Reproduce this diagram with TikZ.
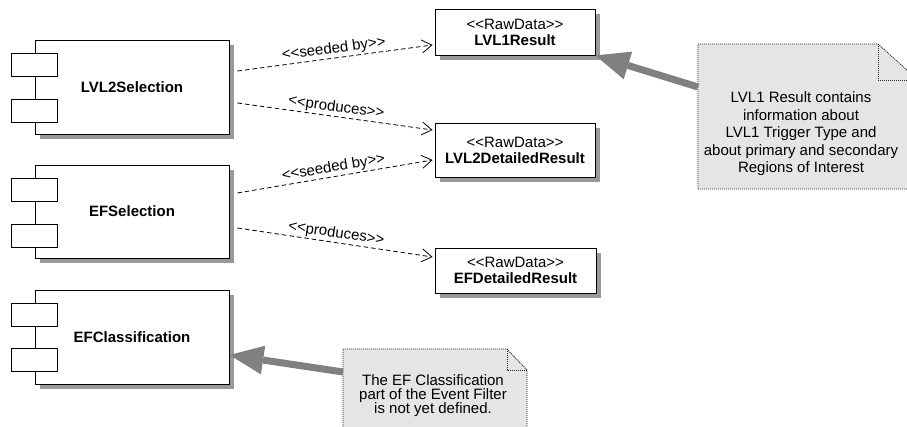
\documentclass[tikz,border=0pt]{standalone}
\usepackage{fontspec}
\setmainfont{Liberation Sans}
\usetikzlibrary{arrows.meta,shadows}

% guillemets written as two separate < and > signs
\newcommand{\stereo}[1]{<\kern0pt<#1>\kern0pt>}

\tikzset{
  boxshadow/.style={drop shadow={shadow xshift=5pt, shadow yshift=-5pt, fill=black!40, opacity=1}},
  compbox/.style={draw, line width=0.9pt, fill=white, boxshadow,
    minimum width=194pt, minimum height=94pt, font=\fontsize{15}{17.5}\selectfont\bfseries},
  portbox/.style={draw, line width=0.9pt, fill=white},
  databox/.style={draw, line width=0.9pt, fill=white, boxshadow, align=center,
    minimum width=160pt, minimum height=46pt, font=\fontsize{15}{16}\selectfont},
  dep/.style={line width=0.8pt, dash pattern=on 4.5pt off 3pt,
    -{Straight Barb[length=10pt,width=13pt]}},
  stereolabel/.style={sloped, above, inner sep=1.5pt},
  notebg/.style={fill=black!10, draw=black!85, dash pattern=on 1pt off 1pt, line width=0.9pt},
  notearrow/.style={draw=black!50, line width=7pt,
    -{Triangle[length=34pt,width=29pt,line width=0pt]}}
}

\begin{document}
\begin{tikzpicture}[x=1pt, y=-1pt, font=\fontsize{15}{17.5}\selectfont]
\useasboundingbox (0,0) rectangle (907,427);
\clip (0,0) rectangle (907,427);

% --- components ---
\node[compbox] (lvl2sel) at (132,87) {LVL2Selection};
\node[compbox, minimum height=93pt] (efsel) at (132,211.5) {EFSelection};
\node[compbox] (efclass) at (132,337) {EFClassification};

\draw[portbox] ([xshift=-23pt,yshift=-14pt]lvl2sel.north west) rectangle ++(46,23);
\draw[portbox] ([xshift=-23pt,yshift=-60pt]lvl2sel.north west) rectangle ++(46,23);
\draw[portbox] ([xshift=-23pt,yshift=-14pt]efsel.north west) rectangle ++(46,23);
\draw[portbox] ([xshift=-23pt,yshift=-60pt]efsel.north west) rectangle ++(46,23);
\draw[portbox] ([xshift=-23pt,yshift=-14pt]efclass.north west) rectangle ++(46,23);
\draw[portbox] ([xshift=-23pt,yshift=-59pt]efclass.north west) rectangle ++(46,23);

% --- raw data ---
\node[databox] (lvl1res) at (515,32) {\stereo{RawData}\\ \textbf{LVL1Result}};
\node[databox, minimum height=54pt] (lvl2det) at (515,150) {\stereo{RawData}\\ \textbf{LVL2DetailedResult}};
\node[databox, minimum width=161pt, minimum height=45pt] (efdet) at (515.5,270.5) {\stereo{RawData}\\ \textbf{EFDetailedResult}};

% --- dependencies ---
\draw[dep] ([xshift=8pt,yshift=16pt]lvl2sel.east) -- node[stereolabel] {\stereo{seeded by}} ([xshift=-2pt,yshift=-13pt]lvl1res.west);
\draw[dep] ([xshift=8pt,yshift=-16pt]lvl2sel.east) -- node[stereolabel] {\stereo{produces}} ([xshift=-2pt,yshift=20pt]lvl2det.west);
\draw[dep] ([xshift=8pt,yshift=18.5pt]efsel.east) -- node[stereolabel] {\stereo{seeded by}} ([xshift=-2pt,yshift=-10pt]lvl2det.west);
\draw[dep] ([xshift=8pt,yshift=-16.5pt]efsel.east) -- node[stereolabel] {\stereo{produces}} ([xshift=-2pt,yshift=13.5pt]efdet.west);

% --- notes ---
\filldraw[notebg] (698,44) -- (878,44) -- (918,80) -- (918,189) -- (698,189) -- cycle;
\draw[notebg, fill=none] (878,44) |- (918,80);
\node[align=center] (lvl1note) at (801,134) {LVL1 Result contains\\ information about\\ LVL1 Trigger Type and\\ about primary and secondary\\ Regions of Interest};
\coordinate (lvl1tail) at (698,87);
\draw[notearrow] (lvl1tail) -- (lvl1res.south east);

\filldraw[notebg] (343,349) -- (507,349) -- (527,370) -- (527,440) -- (343,440) -- cycle;
\draw[notebg, fill=none] (507,349) |- (527,370);
\node[align=center, font=\fontsize{15}{14}\selectfont] (efnote) at (433,396) {The EF Classification\\ part of the Event Filter\\ is not yet defined.};
\coordinate (eftail) at (343,372);
\draw[notearrow] (eftail) -- ([yshift=-18pt]efclass.east);
\end{tikzpicture}
\end{document}
